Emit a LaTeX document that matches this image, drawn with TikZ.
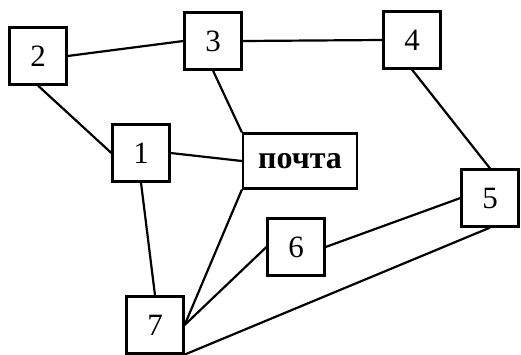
\documentclass[tikz,border=0pt]{standalone}
\usepackage{fontspec}
\setmainfont{Liberation Serif}
\begin{document}
\begin{tikzpicture}[x=1pt, y=-1pt, line width=2.2pt,
    box/.style={draw, minimum width=57pt, minimum height=57pt, inner sep=0pt,
      font=\fontsize{31}{36}\selectfont}]
  \useasboundingbox (0, 0) rectangle (521, 354);
  \node [box] (n2) at (38, 56) {2};
  \node [box] (n3) at (213, 41) {3};
  \node [box] (n4) at (412, 40) {4};
  \node [box] (n1) at (141, 153) {1};
  \node [box, minimum width=114pt, minimum height=55pt, font=\fontsize{32}{36}\selectfont\bfseries] (post) at (300, 161) {почта};
  \node [box] (n5) at (490, 198) {5};
  \node [box] (n6) at (296, 247) {6};
  \node [box] (n7) at (155, 325) {7};
  \draw (n2.east) -- (n3.west);
  \draw (n2.south) -- (n1.west);
  \draw (n3.east) -- (n4.west);
  \draw (n3.south) -- (post.north west);
  \draw (n1.east) -- (post.west);
  \draw (n4.south) -- (n5.north);
  \draw (n1.south) -- (n7.north);
  \draw (post.south west) -- (n7.east);
  \draw (n6.west) -- (n7.east);
  \draw (n6.east) -- (n5.west);
  \draw (n5.south) -- (n7.south east);
\end{tikzpicture}
\end{document}
